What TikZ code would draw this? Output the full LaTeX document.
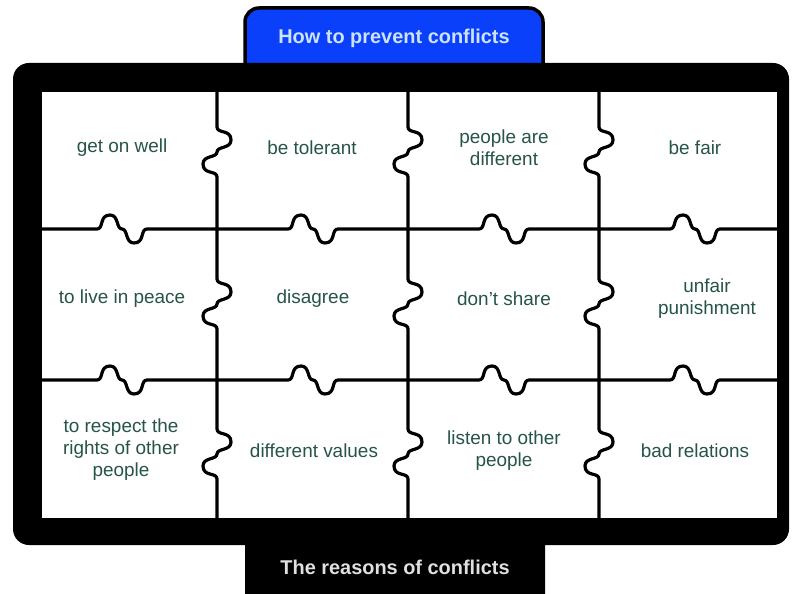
\documentclass[tikz,border=0pt]{standalone}
\usepackage{fontspec}
\setmainfont{Liberation Sans}
\definecolor{tabBlue}{RGB}{10,64,250}
\definecolor{tabText}{RGB}{205,226,255}
\definecolor{pieceText}{RGB}{38,84,74}
\begin{document}
\begin{tikzpicture}[x=1bp,y=-1bp,
  piece/.style={text=pieceText, align=center, font=\fontsize{19}{22}\selectfont},
  title/.style={font=\bfseries\fontsize{20}{24}\selectfont},
  seam/.style={line width=3.2bp, line join=round, line cap=round}]
\newcommand\HKnob[2]{-- (#1-25,#2) .. controls (#1-18,#2) and (#1-23,#2-14) .. (#1-12,#2-14) .. controls (#1-3,#2-14) and (#1-6,#2) .. (#1,#2) .. controls (#1+6,#2) and (#1+3,#2+14) .. (#1+12,#2+14) .. controls (#1+23,#2+14) and (#1+18,#2) .. (#1+25,#2)}
\newcommand\VKnob[2]{-- (#1,#2-25) .. controls (#1,#2-18) and (#1+14,#2-23) .. (#1+14,#2-12) .. controls (#1+14,#2-3) and (#1,#2-6) .. (#1,#2) .. controls (#1,#2+6) and (#1-14,#2+3) .. (#1-14,#2+12) .. controls (#1-14,#2+23) and (#1,#2+18) .. (#1,#2+25)}
\useasboundingbox (0,0) rectangle (792,594);

% tabs and frame
\draw [fill=tabBlue, line width=3.5bp, rounded corners=14bp] (245,8) rectangle (543,80);
\fill [black, rounded corners=14bp] (245,520) rectangle (545,610);
\fill [black, rounded corners=16bp] (13,63) rectangle (789,545);
\fill [white] (42,92) rectangle (777,518);
\node [title, text=tabText] (prevent) at (394,38) {How to prevent conflicts};
\node [title, text=white!88!black] (reasons) at (395,567) {The reasons of conflicts};

% seams
\draw [seam] (42,229) \HKnob{122}{229} \HKnob{313}{229} \HKnob{504}{229} \HKnob{695}{229} -- (777,229);
\draw [seam] (42,380) \HKnob{122}{380} \HKnob{313}{380} \HKnob{504}{380} \HKnob{695}{380} -- (777,380);
\draw [seam] (217,92) \VKnob{217}{152} \VKnob{217}{304} \VKnob{217}{454} -- (217,518);
\draw [seam] (408,92) \VKnob{408}{152} \VKnob{408}{304} \VKnob{408}{454} -- (408,518);
\draw [seam] (599,92) \VKnob{599}{152} \VKnob{599}{304} \VKnob{599}{454} -- (599,518);

\node [piece] (getOnWell) at (122,148) {get on well};
\node [piece] (tolerant) at (312,148) {be tolerant};
\node [piece] (different) at (504,148) {people are\\different};
\node [piece] (fair) at (695,148) {be fair};

\node [piece] (peace) at (122,299) {to live in peace};
\node [piece] (disagree) at (313,299) {disagree};
\node [piece] (share) at (504,299) {don't share};
\node [piece] (punish) at (707,299) {unfair\\punishment};

\node [piece] (respect) at (121,450) {to respect the\\rights of other\\people};
\node [piece] (values) at (314,451) {different values};
\node [piece] (listen) at (504,451) {listen to other\\people};
\node [piece] (relations) at (695,451) {bad relations};
\end{tikzpicture}
\end{document}
